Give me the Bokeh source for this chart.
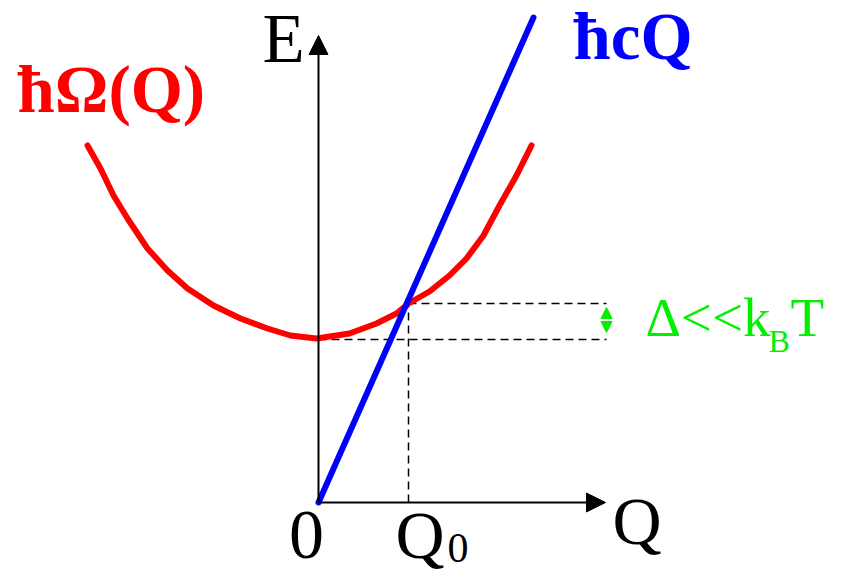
from bokeh.plotting import figure
from bokeh.models import Arrow, NormalHead
from bokeh.core.properties import value
from bokeh.embed import file_html
from bokeh.resources import INLINE

# ---- data (arbitrary units) ----
omega_q = [-2.31, -2.18, -2.05, -1.91, -1.71, -1.51, -1.31, -1.05, -0.78, -0.51,
           -0.28, -0.02, 0.31, 0.58, 0.78, 0.90, 1.11, 1.31, 1.48, 1.65,
           1.81, 1.98, 2.13]
omega_e = [3.57, 3.34, 3.07, 2.84, 2.54, 2.32, 2.14, 1.97, 1.84, 1.74,
           1.67, 1.64, 1.69, 1.79, 1.89, 1.99, 2.11, 2.27, 2.44, 2.67,
           2.97, 3.27, 3.57]
cq_q = [0.0, 2.15]
cq_e = [0.0, 4.85]
q0 = 0.90          # crossing point
e_q0 = 1.99        # energy at crossing
e_min = 1.63       # minimum of hbar Omega(Q)
q_axis_end = 2.87
e_axis_end = 4.67
delta_x = 2.88

FONT = value("Liberation Serif")

p = figure(width=828, height=572, x_range=(-3.18, 5.10), y_range=(-0.70, 5.02),
           output_backend="svg", toolbar_location=None, min_border=0,
           x_axis_location=None, y_axis_location=None)
p.grid.visible = False
p.outline_line_color = None
p.background_fill_color = "white"
p.border_fill_color = "white"

# dashed guides
p.line([q0, delta_x], [e_q0, e_q0], line_color="black", line_width=1.5, line_dash="8 5")
p.line([0, delta_x], [e_min, e_min], line_color="black", line_width=1.5, line_dash="8 5")
p.line([q0, q0], [0, e_q0], line_color="black", line_width=1.5, line_dash="8 5")

# axes with arrows
p.add_layout(Arrow(end=NormalHead(size=19, fill_color="black", line_color="black"),
                   x_start=0, y_start=0, x_end=0, y_end=e_axis_end,
                   line_color="black", line_width=2))
p.add_layout(Arrow(end=NormalHead(size=19, fill_color="black", line_color="black"),
                   x_start=0, y_start=0, x_end=q_axis_end, y_end=0,
                   line_color="black", line_width=2))

# curves
p.line(omega_q, omega_e, line_color="#ff0000", line_width=6, line_cap="round", line_join="round")
p.line(cq_q, cq_e, line_color="#0000ff", line_width=6, line_cap="round")

# green double arrow (heads only)
p.add_layout(Arrow(start=NormalHead(size=11, fill_color="#00f000", line_color="#00f000"),
                   end=NormalHead(size=11, fill_color="#00f000", line_color="#00f000"),
                   x_start=delta_x, y_start=e_min + 0.07, x_end=delta_x, y_end=e_q0 - 0.04,
                   line_alpha=0))

def label(x, y, t, color="black", size=68, style="normal", align="left"):
    # compensate for how the svg backend places the alphabetic baseline
    p.text(x=[x], y=[y + 0.0038 * size], text=[t], text_font=FONT,
           text_font_size=f"{size}px", text_font_style=style, text_color=color,
           text_align=align, text_baseline="alphabetic")

label(-0.56, 4.37, "E", size=69)
label(-3.01, 3.88, "ħΩ(Q)", color="#ff0000", size=67, style="bold")
label(2.55, 4.41, "ħcQ", color="#0000ff", size=67, style="bold")
label(3.27, 1.64, "Δ<<k", color="#00f000", size=55)
label(4.50, 1.49, "B", color="#00f000", size=32)
label(4.72, 1.64, "T", color="#00f000", size=55)
label(-0.12, -0.59, "0", size=70, align="center")
label(0.77, -0.58, "Q", size=68)
label(1.29, -0.61, "0", size=42)
label(2.94, -0.44, "Q", size=68)

open("out.html", "w").write(file_html(p, INLINE))
